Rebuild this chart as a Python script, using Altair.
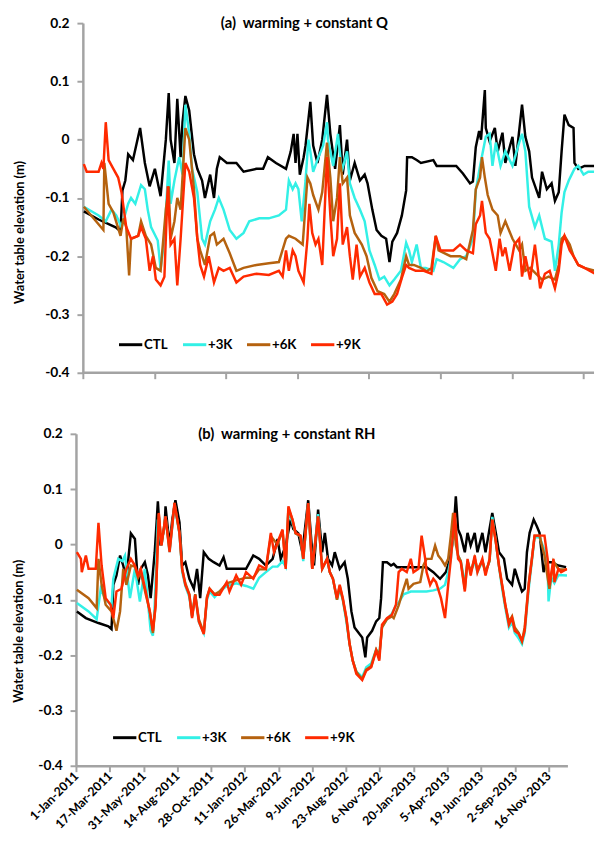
import altair as alt
import pandas as pd

series_names = ["CTL", "+3K", "+6K", "+9K"]
series_colors = ["#000000", "#33F0E6", "#B5620F", "#FF2A00"]

tick_days = [0, 75, 150, 225, 300, 375, 450, 525, 600, 675, 750, 825, 900, 975, 1050]
tick_labels = ["1-Jan-2011", "17-Mar-2011", "31-May-2011", "14-Aug-2011", "28-Oct-2011",
               "11-Jan-2012", "26-Mar-2012", "9-Jun-2012", "23-Aug-2012", "6-Nov-2012",
               "20-Jan-2013", "5-Apr-2013", "19-Jun-2013", "2-Sep-2013", "16-Nov-2013"]
y_ticks = [-0.4, -0.3, -0.2, -0.1, 0, 0.1, 0.2]

title_a = "(a)\u00a0 warming + constant Q"
title_b = "(b)\u00a0 warming + constant RH"
y_title = "Water table elevation (m)"

# (day since 1-Jan-2011, water table elevation m)
top_ctl = [(2,-0.123),(33,-0.137),(70,-0.151),(79,-0.157),(83,-0.087),(89,-0.07),(95,-0.025),(105,-0.035),(120,0.02),(130,-0.04),(140,-0.08),(151,-0.05),(163,-0.097),(174,0.0),(180,0.08),(184,0.0),(192,-0.04),(198,0.07),(205,-0.03),(209,0.03),(215,0.075),(223,0.05),(233,-0.025),(240,-0.05),(250,-0.07),(256,-0.1),(267,-0.06),(275,-0.1),(281,-0.05),(287,-0.03),(302,-0.04),(322,-0.04),(337,-0.055),(364,-0.05),(378,-0.05),(388,-0.03),(405,-0.04),(426,-0.05),(436,-0.02),(442,0.01),(446,-0.04),(450,0.01),(455,-0.06),(463,-0.03),(467,-0.01),(477,0.065),(483,-0.01),(492,-0.04),(502,0.0),(512,0.077),(519,0.01),(529,-0.05),(539,0.025),(545,-0.06),(554,0.0),(560,-0.07),(570,-0.04),(581,-0.07),(591,-0.06),(597,-0.075),(607,-0.12),(616,-0.155),(626,-0.165),(636,-0.17),(643,-0.21),(649,-0.175),(659,-0.16),(669,-0.13),(678,-0.087),(680,-0.03),(690,-0.03),(700,-0.035),(709,-0.04),(735,-0.035),(742,-0.045),(783,-0.045),(797,-0.058),(812,-0.075),(818,-0.072),(824,-0.013),(831,0.015),(835,0.0),(843,0.085),(845,0.02),(853,-0.003),(864,0.02),(870,-0.02),(880,0.012),(886,-0.04),(901,0.005),(907,-0.045),(921,0.06),(928,0.005),(936,-0.02),(942,-0.065),(957,-0.1),(963,-0.055),(973,-0.085),(983,-0.075),(990,-0.105),(998,-0.09),(1004,-0.02),(1010,0.043),(1019,0.025),(1029,0.02),(1031,-0.04),(1039,-0.05),(1052,-0.045),(1074,-0.045)]

top_3k = [(2,-0.115),(33,-0.13),(48,-0.14),(60,-0.12),(70,-0.13),(81,-0.15),(95,-0.11),(101,-0.10),(110,-0.11),(122,-0.078),(130,-0.085),(136,-0.12),(143,-0.15),(157,-0.173),(163,-0.222),(171,-0.17),(180,-0.036),(184,-0.11),(192,-0.07),(202,-0.03),(209,-0.06),(215,0.06),(223,0.01),(229,-0.05),(240,-0.09),(250,-0.17),(256,-0.18),(267,-0.14),(277,-0.12),(285,-0.1),(295,-0.12),(308,-0.155),(322,-0.17),(337,-0.16),(349,-0.14),(370,-0.135),(390,-0.135),(411,-0.13),(426,-0.12),(432,-0.07),(440,-0.085),(446,-0.075),(452,-0.085),(459,-0.14),(467,-0.07),(473,0.0),(477,-0.02),(483,-0.055),(494,-0.03),(504,-0.01),(512,0.03),(514,0.0),(525,-0.045),(535,0.01),(543,-0.055),(554,-0.02),(560,-0.075),(570,-0.1),(581,-0.12),(591,-0.14),(601,-0.19),(612,-0.215),(622,-0.24),(632,-0.235),(643,-0.25),(653,-0.24),(667,-0.225),(678,-0.177),(684,-0.19),(690,-0.21),(700,-0.18),(709,-0.22),(719,-0.22),(735,-0.225),(742,-0.205),(756,-0.21),(777,-0.22),(791,-0.205),(804,-0.2),(818,-0.17),(824,-0.087),(833,-0.045),(839,-0.02),(845,0.005),(853,0.01),(859,-0.045),(866,-0.005),(876,-0.045),(886,-0.02),(901,-0.045),(915,-0.005),(921,0.01),(928,-0.02),(936,-0.115),(948,-0.15),(957,-0.13),(969,-0.17),(983,-0.175),(990,-0.225),(998,-0.18),(1004,-0.125),(1010,-0.09),(1019,-0.07),(1025,-0.06),(1031,-0.05),(1039,-0.045),(1050,-0.06),(1060,-0.055),(1074,-0.055)]

top_6k = [(2,-0.115),(43,-0.155),(45,-0.04),(54,-0.11),(64,-0.125),(79,-0.165),(85,-0.135),(91,-0.15),(97,-0.233),(101,-0.17),(116,-0.165),(122,-0.14),(132,-0.165),(143,-0.18),(153,-0.22),(163,-0.225),(174,-0.12),(180,-0.08),(184,-0.17),(192,-0.14),(198,-0.1),(205,-0.12),(215,0.02),(223,0.0),(233,-0.085),(240,-0.17),(246,-0.19),(256,-0.215),(267,-0.165),(275,-0.16),(281,-0.18),(295,-0.17),(308,-0.195),(322,-0.225),(337,-0.22),(364,-0.215),(390,-0.212),(411,-0.21),(426,-0.17),(432,-0.165),(446,-0.17),(461,-0.18),(471,-0.065),(477,-0.075),(483,-0.095),(494,-0.12),(502,-0.09),(512,-0.005),(519,-0.065),(525,-0.14),(533,-0.1),(539,-0.03),(545,-0.075),(554,-0.065),(560,-0.13),(570,-0.16),(585,-0.18),(595,-0.2),(605,-0.237),(618,-0.26),(632,-0.265),(643,-0.278),(653,-0.265),(667,-0.24),(678,-0.2),(684,-0.215),(694,-0.215),(709,-0.22),(721,-0.226),(731,-0.22),(740,-0.165),(746,-0.19),(771,-0.2),(791,-0.2),(804,-0.205),(818,-0.155),(824,-0.085),(833,-0.065),(837,-0.03),(843,-0.065),(849,-0.095),(859,-0.12),(870,-0.13),(876,-0.16),(886,-0.14),(901,-0.17),(915,-0.19),(921,-0.18),(928,-0.225),(938,-0.22),(948,-0.228),(963,-0.24),(977,-0.235),(990,-0.24),(998,-0.215),(1004,-0.17),(1010,-0.165),(1021,-0.18),(1029,-0.2),(1039,-0.215),(1052,-0.22),(1074,-0.225)]

top_9k = [(2,-0.042),(8,-0.055),(33,-0.055),(39,-0.04),(43,-0.05),(48,0.03),(54,-0.035),(64,-0.05),(74,-0.065),(81,-0.09),(91,-0.15),(101,-0.17),(116,-0.165),(122,-0.15),(132,-0.17),(140,-0.225),(147,-0.2),(153,-0.24),(163,-0.25),(171,-0.235),(178,-0.08),(184,-0.18),(192,-0.17),(198,-0.25),(205,-0.17),(215,-0.04),(223,-0.055),(233,-0.1),(240,-0.17),(246,-0.215),(254,-0.235),(264,-0.2),(275,-0.245),(285,-0.22),(295,-0.225),(308,-0.22),(322,-0.245),(337,-0.235),(364,-0.23),(390,-0.232),(411,-0.225),(419,-0.235),(426,-0.19),(432,-0.225),(440,-0.19),(446,-0.2),(452,-0.225),(463,-0.245),(471,-0.17),(475,-0.11),(481,-0.16),(488,-0.18),(494,-0.17),(502,-0.215),(512,-0.03),(519,-0.13),(525,-0.2),(533,-0.17),(539,-0.075),(545,-0.18),(554,-0.15),(560,-0.2),(566,-0.24),(574,-0.18),(581,-0.235),(591,-0.22),(601,-0.245),(612,-0.265),(626,-0.265),(638,-0.283),(649,-0.278),(659,-0.265),(669,-0.237),(678,-0.215),(684,-0.22),(698,-0.225),(715,-0.225),(731,-0.23),(740,-0.165),(750,-0.19),(777,-0.19),(791,-0.18),(804,-0.19),(818,-0.195),(824,-0.145),(833,-0.13),(837,-0.105),(845,-0.16),(853,-0.17),(859,-0.195),(866,-0.225),(874,-0.17),(880,-0.2),(886,-0.185),(895,-0.225),(905,-0.18),(915,-0.17),(921,-0.235),(928,-0.2),(938,-0.24),(948,-0.18),(959,-0.255),(969,-0.23),(979,-0.225),(990,-0.255),(998,-0.225),(1004,-0.18),(1010,-0.165),(1021,-0.19),(1029,-0.2),(1039,-0.215),(1052,-0.22),(1074,-0.23)]

bot_ctl = [(2,-0.121),(22,-0.133),(50,-0.142),(72,-0.148),(79,-0.153),(83,-0.073),(90,-0.056),(98,-0.02),(105,-0.038),(112,-0.062),(122,0.02),(131,0.01),(138,-0.073),(144,-0.044),(153,-0.032),(160,-0.056),(166,-0.097),(175,-0.014),(182,0.078),(188,-0.002),(197,0.033),(199,0.069),(208,-0.002),(214,0.045),(221,0.08),(230,0.04),(236,-0.038),(243,-0.032),(252,-0.062),(262,-0.08),(269,-0.044),(276,-0.097),(284,-0.014),(295,-0.026),(306,-0.032),(319,-0.038),(328,-0.023),(335,-0.044),(356,-0.044),(378,-0.044),(394,-0.02),(407,-0.026),(422,-0.038),(437,-0.026),(448,0.01),(455,-0.026),(466,-0.002),(477,0.045),(483,0.028),(494,0.02),(503,-0.014),(516,0.08),(525,-0.014),(529,-0.038),(538,0.063),(547,-0.014),(553,0.021),(560,-0.026),(569,-0.038),(575,-0.014),(586,-0.044),(597,-0.032),(604,-0.062),(612,-0.121),(619,-0.15),(630,-0.162),(636,-0.168),(643,-0.204),(647,-0.168),(658,-0.156),(667,-0.139),(674,-0.133),(678,-0.097),(682,-0.032),(691,-0.032),(700,-0.038),(706,-0.035),(713,-0.041),(744,-0.041),(779,-0.041),(794,-0.05),(809,-0.062),(822,-0.05),(831,-0.026),(838,0.01),(844,0.087),(849,0.027),(855,0.016),(864,-0.014),(870,0.021),(877,-0.002),(886,0.021),(892,-0.014),(903,0.021),(910,-0.014),(925,0.057),(934,0.016),(940,-0.014),(951,-0.026),(958,-0.062),(969,-0.073),(975,-0.044),(984,-0.068),(991,-0.085),(997,-0.08),(1002,-0.014),(1008,0.021),(1017,0.045),(1024,0.033),(1030,0.021),(1039,-0.05),(1045,-0.032),(1056,-0.032),(1072,-0.038),(1089,-0.041)]

bot_3k = [(2,-0.106),(28,-0.121),(46,-0.135),(55,-0.08),(66,-0.1),(79,-0.11),(83,-0.062),(94,-0.026),(103,-0.03),(109,-0.02),(120,-0.097),(131,-0.044),(142,-0.103),(153,-0.044),(166,-0.156),(171,-0.165),(175,-0.109),(182,0.045),(190,-0.002),(199,0.05),(208,-0.014),(219,0.07),(230,0.02),(236,-0.05),(243,-0.075),(252,-0.095),(258,-0.13),(265,-0.09),(273,-0.14),(284,-0.16),(291,-0.1),(297,-0.085),(308,-0.095),(319,-0.085),(335,-0.075),(356,-0.07),(378,-0.075),(394,-0.08),(407,-0.06),(422,-0.05),(437,-0.04),(448,-0.04),(459,-0.03),(466,-0.04),(472,0.06),(481,0.04),(488,0.02),(499,0.015),(505,-0.03),(516,0.075),(525,-0.044),(538,0.055),(547,-0.044),(558,-0.026),(564,-0.05),(571,-0.062),(580,-0.1),(586,-0.08),(593,-0.1),(601,-0.14),(608,-0.18),(615,-0.21),(623,-0.23),(630,-0.235),(636,-0.24),(645,-0.222),(656,-0.215),(667,-0.19),(674,-0.2),(680,-0.15),(691,-0.135),(702,-0.125),(711,-0.11),(717,-0.105),(728,-0.09),(744,-0.085),(779,-0.085),(794,-0.083),(809,-0.08),(820,-0.073),(827,-0.05),(833,-0.026),(842,0.05),(849,-0.02),(855,-0.03),(864,-0.07),(870,-0.03),(877,-0.05),(886,-0.03),(892,-0.05),(903,-0.03),(910,-0.05),(919,-0.03),(925,0.05),(932,0.01),(940,-0.04),(947,-0.08),(954,-0.115),(962,-0.15),(969,-0.14),(975,-0.16),(984,-0.17),(991,-0.18),(997,-0.16),(1006,-0.08),(1013,-0.03),(1019,0.013),(1030,0.013),(1041,-0.01),(1048,-0.04),(1050,-0.103),(1056,-0.06),(1063,-0.07),(1072,-0.055),(1091,-0.056)]

bot_6k = [(2,-0.082),(28,-0.097),(46,-0.115),(50,-0.026),(57,-0.073),(66,-0.109),(79,-0.121),(90,-0.156),(98,-0.121),(105,-0.044),(112,-0.073),(122,-0.038),(131,-0.04),(138,-0.06),(144,-0.05),(155,-0.09),(164,-0.12),(171,-0.16),(177,-0.11),(184,0.055),(190,0.0),(199,0.05),(208,-0.01),(219,0.075),(230,0.02),(236,-0.045),(243,-0.07),(252,-0.09),(258,-0.13),(265,-0.09),(273,-0.135),(284,-0.16),(291,-0.095),(297,-0.08),(308,-0.09),(319,-0.085),(335,-0.07),(356,-0.065),(378,-0.06),(394,-0.06),(407,-0.045),(422,-0.045),(433,0.015),(448,0.0),(459,0.025),(466,-0.04),(472,0.065),(481,0.045),(488,0.02),(499,0.015),(505,-0.026),(516,0.075),(525,-0.044),(538,0.05),(547,-0.044),(558,-0.026),(564,-0.05),(571,-0.062),(580,-0.1),(586,-0.075),(593,-0.1),(601,-0.135),(608,-0.18),(615,-0.21),(623,-0.23),(630,-0.238),(636,-0.243),(645,-0.226),(656,-0.22),(667,-0.19),(674,-0.2),(680,-0.15),(691,-0.135),(702,-0.13),(706,-0.133),(717,-0.11),(728,-0.08),(735,-0.062),(739,-0.08),(750,-0.071),(765,-0.068),(772,-0.038),(779,-0.026),(790,-0.026),(798,-0.002),(805,-0.02),(811,-0.026),(820,-0.038),(827,-0.026),(833,0.016),(838,0.057),(844,0.0),(849,-0.02),(855,-0.03),(864,-0.08),(870,-0.03),(877,-0.05),(886,-0.025),(892,-0.045),(903,-0.03),(910,-0.05),(919,-0.03),(925,0.045),(932,0.01),(940,-0.04),(947,-0.075),(954,-0.11),(962,-0.14),(969,-0.13),(975,-0.15),(984,-0.16),(991,-0.175),(997,-0.15),(1006,-0.07),(1013,-0.026),(1019,0.016),(1030,0.016),(1041,-0.02),(1048,-0.06),(1052,-0.08),(1061,-0.03),(1072,-0.045),(1091,-0.045)]

bot_9k = [(2,-0.014),(11,-0.026),(13,-0.05),(22,-0.02),(28,-0.044),(44,-0.044),(50,0.039),(57,-0.038),(66,-0.097),(77,-0.109),(83,-0.133),(90,-0.085),(101,-0.08),(112,-0.044),(122,-0.026),(131,-0.038),(138,-0.056),(144,-0.044),(155,-0.085),(164,-0.121),(171,-0.156),(177,-0.109),(184,0.057),(190,-0.002),(199,0.051),(208,-0.014),(219,0.075),(230,0.021),(236,-0.044),(243,-0.073),(252,-0.091),(258,-0.133),(265,-0.091),(273,-0.139),(284,-0.162),(291,-0.097),(297,-0.08),(308,-0.091),(319,-0.091),(335,-0.068),(341,-0.085),(356,-0.056),(367,-0.073),(378,-0.05),(394,-0.062),(407,-0.038),(422,-0.044),(433,0.021),(440,-0.014),(448,0.004),(459,0.027),(466,-0.044),(472,0.069),(481,0.045),(488,0.021),(499,0.016),(505,-0.026),(516,0.075),(525,-0.044),(538,0.051),(547,-0.044),(558,-0.026),(564,-0.05),(571,-0.062),(580,-0.097),(586,-0.073),(593,-0.097),(601,-0.133),(608,-0.18),(615,-0.21),(623,-0.234),(630,-0.24),(636,-0.245),(645,-0.228),(656,-0.222),(667,-0.192),(674,-0.21),(680,-0.145),(691,-0.133),(702,-0.127),(711,-0.109),(717,-0.05),(724,-0.044),(735,-0.05),(744,-0.026),(750,-0.05),(761,-0.044),(768,0.016),(776,-0.026),(779,-0.05),(787,-0.073),(794,-0.062),(800,-0.068),(811,-0.097),(820,-0.133),(827,-0.073),(833,-0.026),(842,0.057),(849,-0.026),(855,-0.032),(864,-0.085),(870,-0.026),(877,-0.056),(886,-0.02),(892,-0.05),(903,-0.026),(910,-0.056),(919,-0.026),(925,0.045),(932,0.01),(940,-0.038),(947,-0.073),(954,-0.109),(962,-0.145),(969,-0.133),(975,-0.156),(984,-0.162),(991,-0.174),(997,-0.156),(1006,-0.073),(1013,-0.026),(1019,0.016),(1030,0.016),(1041,0.016),(1048,-0.026),(1052,-0.073),(1061,-0.026),(1063,-0.068),(1072,-0.044),(1078,-0.05),(1091,-0.044)]

FONT = "Lato"
AXIS_GREY = "#A3A3A3"


def make_frame(lists):
    rows = []
    for k, (name, pts) in enumerate(zip(series_names, lists)):
        for d, v in pts:
            rows.append({"day": d, "value": v, "series": name, "k": k})
    return pd.DataFrame(rows)


labels_js = "[" + ",".join("'" + s + "'" for s in tick_labels) + "]"
x_label_expr = labels_js + "[round(datum.value / 75)]"
y_label_expr = ("datum.value == 0 ? '0' : (datum.value < 0 ? '-' + format(-datum.value, '.1f') "
                ": format(datum.value, '.1f'))")


def panel(lists, title_text, width, height, xmin, xmax, show_labels, legend_x, legend_y,
          title_x, y_title_y, y_title_pad, y_offset):
    df = make_frame(lists)
    x_axis = alt.Axis(values=tick_days, labels=show_labels, labelExpr=x_label_expr,
                      labelAngle=-45, labelAlign="right", labelBaseline="middle",
                      labelFontSize=12.5, labelPadding=2, labelOverlap=False,
                      labelBound=False, title=None, grid=False, domain=show_labels)
    y_axis = alt.Axis(values=y_ticks, labelExpr=y_label_expr, title=y_title,
                      titleY=y_title_y, titlePadding=y_title_pad, grid=False,
                      labelFontSize=14, labelPadding=8, offset=y_offset)
    xs = alt.Scale(domain=[xmin, xmax], nice=False, zero=False)
    ys = alt.Scale(domain=[-0.4, 0.2], nice=False)
    lines = alt.Chart(df).mark_line(strokeWidth=2.5, clip=True).encode(
        x=alt.X("day:Q", scale=xs, axis=x_axis),
        y=alt.Y("value:Q", scale=ys, axis=y_axis),
        color=alt.Color("series:N", sort=series_names,
                        scale=alt.Scale(domain=series_names, range=series_colors),
                        legend=alt.Legend(orient="none", legendX=legend_x, legendY=legend_y,
                                          direction="horizontal", title=None,
                                          symbolType="stroke", symbolSize=560,
                                          symbolStrokeWidth=3, labelFont=FONT,
                                          labelFontSize=13.5, labelFontWeight="bold",
                                          labelColor="black", labelOffset=0,
                                          columnPadding=8, padding=0)),
        order=alt.Order("day:Q"),
    )
    label = alt.Chart(pd.DataFrame({"t": [title_text]})).mark_text(
        font=FONT, fontSize=15, fontWeight="bold", color="black", baseline="middle"
    ).encode(text="t:N", x=alt.value(title_x), y=alt.value(0))
    layers = [lines, label]
    if not show_labels:
        base_line = alt.Chart(pd.DataFrame({"x": [0], "x2": [xmax], "y": [-0.4]})).mark_rule(
            color=AXIS_GREY, strokeWidth=2.5
        ).encode(x=alt.X("x:Q", scale=xs), x2="x2:Q", y=alt.Y("y:Q", scale=ys))
        layers.insert(0, base_line)
    return alt.layer(*layers).properties(width=width, height=height)


top = panel([top_ctl, top_3k, top_6k, top_9k], title_a, 526, 355, -14.5, 1072, False,
            42, 313, 232, 212, 18, -7)
bottom = panel([bot_ctl, bot_3k, bot_6k, bot_9k], title_b, 499, 337, 0, 1092, True,
               36, 295, 214, 200, 12, 0)

chart = alt.concat(top, bottom, columns=1, spacing=48, bounds="full").resolve_scale(
    x="independent", y="independent", color="independent"
).resolve_legend(color="independent").properties(
    padding={"left": 5, "top": 2, "right": 0, "bottom": 0}
).configure_view(strokeWidth=0).configure_axis(
    domainColor=AXIS_GREY, domainWidth=2.5, tickColor=AXIS_GREY, tickWidth=2, tickSize=6,
    labelFont=FONT, labelFontWeight="bold", labelColor="black",
    titleFont=FONT, titleFontWeight="bold", titleFontSize=13, titleColor="black"
)

chart.save("out.html", embed_options={"renderer": "svg", "actions": False})
